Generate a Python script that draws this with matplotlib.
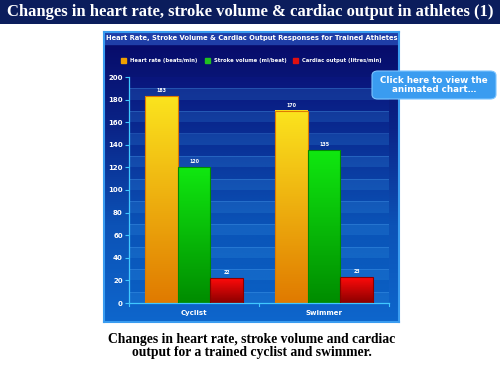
import numpy as np
import matplotlib
matplotlib.use('Agg')
import matplotlib.pyplot as plt
from matplotlib.colors import LinearSegmentedColormap
from matplotlib.patches import FancyBboxPatch, Rectangle

# data
categories = ['Cyclist', 'Swimmer']
series_names = ['Heart rate (beats/min)', 'Stroke volume (ml/beat)', 'Cardiac output (litres/min)']
heart_rate = [183, 170]
stroke_volume = [120, 135]
cardiac_output = [22, 23]
yticks = list(range(0, 201, 20))

title = 'Changes in heart rate, stroke volume & cardiac output in athletes (1)'
chart_title = 'Heart Rate, Stroke Volume & Cardiac Output Responses for Trained Athletes'
caption = 'Changes in heart rate, stroke volume and cardiac\noutput for a trained cyclist and swimmer.'

W, H = 500, 375
fig = plt.figure(figsize=(5, 3.75), dpi=100)
fig.patch.set_facecolor('white')

def fx(px):
    return px / W

def fy(py):
    return 1 - py / H

# top title bar
bar_ax = fig.add_axes([0, fy(24), 1, 24 / H])
bar_ax.set_facecolor('#0b1d5c')
bar_ax.set_xticks([]); bar_ax.set_yticks([])
for s in bar_ax.spines.values():
    s.set_visible(False)
bar_ax.text(0.5, 0.5, title, ha='center', va='center', color='white',
            fontsize=12, fontweight='bold', family='Liberation Serif',
            transform=bar_ax.transAxes)

# chart panel
panel = fig.add_axes([fx(104), fy(322), fx(399 - 104), (322 - 32) / H])
grad = np.linspace(0, 1, 256)[:, None]
panel_cmap = LinearSegmentedColormap.from_list('p', ['#070866', '#0a2488', '#0c52b6', '#0e66cc'])
panel.imshow(grad, aspect='auto', cmap=panel_cmap, extent=[0, 1, 0, 1], origin='upper')
panel.set_xlim(0, 1); panel.set_ylim(0, 1)
panel.set_xticks([]); panel.set_yticks([])
for s in panel.spines.values():
    s.set_color('#3a9cf0'); s.set_linewidth(1.5)
th = 12 / 290
panel.add_patch(Rectangle((0, 1 - th), 1, th, color='#1f3fa8', zorder=2))
panel.text(0.5, 1 - th / 2, chart_title, ha='center', va='center', color='white',
           fontsize=4.9, fontweight='bold', family='DejaVu Sans', zorder=3)

# legend
colors_top = ['#fbe41e', '#10e810', '#ff0a0a']
colors_bot = ['#e07a00', '#008c00', '#8a0000']
legend_sq = ['#f0a000', '#20c020', '#e01010']
leg_x = [121, 205, 293]
for c, name, lx in zip(legend_sq, series_names, leg_x):
    fig.patches.append(Rectangle((fx(lx), fy(63)), fx(5), 5 / H, color=c,
                                 transform=fig.transFigure, figure=fig))
    fig.text(fx(lx + 9), fy(60.5), name, color='white', fontsize=3.8,
             fontweight='bold', va='center', ha='left')

# plot area
ax = fig.add_axes([fx(129), fy(303), fx(389 - 129), (303 - 77) / H])
ax.set_xlim(-0.5, 1.5)
ax.set_ylim(0, 200)
plot_cmap = LinearSegmentedColormap.from_list('a', ['#09157c', '#0a349a', '#0a54b8', '#0a60c4'])
ax.imshow(grad, aspect='auto', cmap=plot_cmap, extent=[-0.5, 1.5, 0, 200],
          origin='upper', zorder=0)
for y0 in range(0, 200, 20):
    ax.axhspan(y0, y0 + 10, color='#3a9ae8', alpha=0.2, lw=0, zorder=0.5)
    ax.axhline(y0 + 10, color='#5ab0ff', alpha=0.3, lw=0.6, zorder=0.6)

x = np.arange(len(categories))
bw = 0.25
series = [heart_rate, stroke_volume, cardiac_output]
for i, vals in enumerate(series):
    cm = LinearSegmentedColormap.from_list('b%d' % i, [colors_top[i], colors_bot[i]])
    for xi, v in zip(x, vals):
        left = xi + (i - 1) * bw - bw / 2
        ax.imshow(grad, aspect='auto', cmap=cm, extent=[left, left + bw, 0, v],
                  origin='upper', zorder=2)
        ax.add_patch(Rectangle((left, 0), bw, v, fill=False,
                               ec=colors_bot[i], lw=0.8, zorder=3))
        ax.text(xi + (i - 1) * bw, v + 3, str(v), ha='center', va='bottom',
                color='white', fontsize=3.4, fontweight='bold', zorder=4)

ax.set_xlim(-0.5, 1.5)
ax.set_ylim(0, 200)
ax.set_yticks(yticks)
ax.set_yticklabels([str(t) for t in yticks], color='white', fontsize=5,
                   fontweight='bold')
ax.set_xticks(x)
ax.set_xticklabels(categories, color='white', fontsize=5, fontweight='bold')
ax.tick_params(axis='y', colors='#40c8ff', length=3, width=0.8, pad=1.5,
               labelcolor='white')
ax.tick_params(axis='x', length=0, pad=5, labelcolor='white')
for t in [-0.5, 0.5, 1.5]:
    ax.plot([t, t], [0, -2.5], color='#40c8ff', lw=0.8, clip_on=False)
for k in ['top', 'right']:
    ax.spines[k].set_visible(False)
for k in ['left', 'bottom']:
    ax.spines[k].set_color('#40c8ff')
    ax.spines[k].set_linewidth(0.9)

# button
btn = FancyBboxPatch((fx(372), fy(99)), fx(124), 28 / H,
                     boxstyle='round,pad=0,rounding_size=0.012',
                     transform=fig.transFigure, fc='#3a9cf0', ec='#7cc4ff', lw=0.8)
fig.patches.append(btn)
fig.text(fx(434), fy(85), 'Click here to view the\nanimated chart\u2026', ha='center',
         va='center', color='white', fontsize=6.3, fontweight='bold', linespacing=1.1)

# caption
fig.text(fx(252), fy(346), caption, ha='center', va='center', color='black',
         fontsize=9.8, fontweight='bold', family='Liberation Serif', linespacing=1.0)

fig.savefig('out.png', dpi=100, facecolor='white')
